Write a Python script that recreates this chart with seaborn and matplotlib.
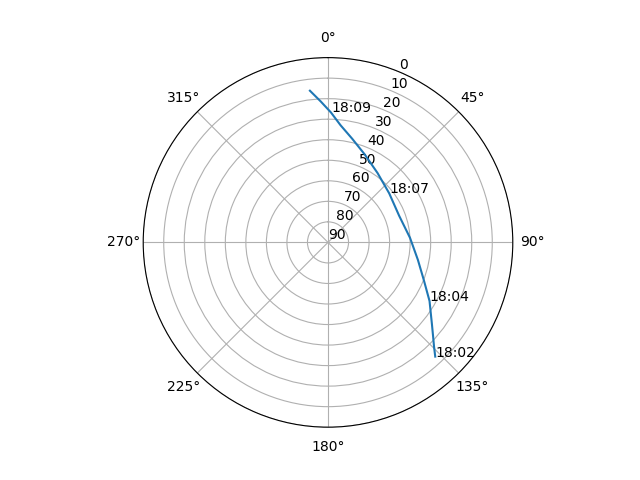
import numpy as np
import pandas as pd
import seaborn as sns
import matplotlib
matplotlib.use("Agg")
import matplotlib.pyplot as plt

# pass samples every 30 s
times = ["18:02:00", "18:02:30", "18:03:00", "18:03:30", "18:04:00", "18:04:30",
         "18:05:00", "18:05:30", "18:06:00", "18:06:30", "18:07:00", "18:07:30",
         "18:08:00", "18:08:30", "18:09:00", "18:09:30", "18:10:00", "18:10:30"]
azimuth = [136.8, 134.5, 131.6, 128.1, 124.8, 120.0,
           111.4, 101.0, 86.8, 69.5, 51.3, 35.6,
           22.7, 13.2, 6.1, 1.3, 357.0, 353.2]
elevation = [13.7, 17.6, 21.6, 25.7, 29.0, 32.9,
             39.9, 45.4, 50.0, 53.0, 51.8, 48.5,
             43.6, 38.2, 32.6, 26.7, 21.2, 15.6]
label_every = 5

df = pd.DataFrame({
    "theta": np.unwrap(np.radians(azimuth)),
    "elev": elevation,
    "time": times,
})

fig = plt.figure(figsize=(6.4, 4.8), dpi=100)
ax = fig.add_subplot(111, projection="polar")
ax.set_theta_zero_location("N")
ax.set_theta_direction(-1)

sns.lineplot(data=df, x="theta", y="elev", sort=False, estimator=None, ax=ax)

# time labels along the track
for i in range(0, len(df), label_every):
    ax.text(df["theta"][i], df["elev"][i], df["time"][i][:5])

ax.set_ylim(90, 0)
ax.set_yticks(range(0, 91, 10))
ax.set_xlabel("")
ax.set_ylabel("")
ax.grid(True)

fig.savefig("out.png", dpi=100)
